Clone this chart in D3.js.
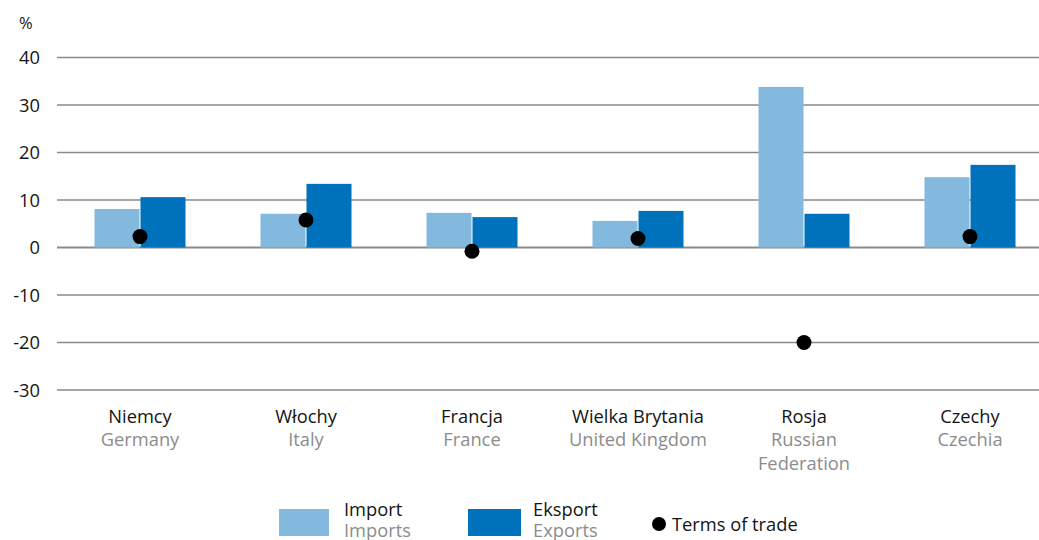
<!DOCTYPE html>
<html>
<head>
<meta charset="utf-8">
<script src="https://cdn.jsdelivr.net/npm/d3@7"></script>
<style>
  html, body { margin: 0; padding: 0; background: #fff; }
  svg { display: block; font-family: "Open Sans", "Noto Sans", sans-serif; }
</style>
</head>
<body>
<svg id="chart" width="1039" height="540"></svg>
<script>
// Category names: Polish line and English line
const categoriesPl = ["Niemcy", "Włochy", "Francja", "Wielka Brytania", "Rosja", "Czechy"];
const categoriesEn = [["Germany"], ["Italy"], ["France"], ["United Kingdom"], ["Russian", "Federation"], ["Czechia"]];

// Series values, %
const importValues = [8.1, 7.1, 7.3, 5.6, 33.8, 14.8];
const exportValues = [10.6, 13.4, 6.4, 7.7, 7.1, 17.4];
const termsOfTrade = [2.3, 5.8, -0.8, 1.9, -20.0, 2.3];

// Y axis ticks
const yTicks = [40, 30, 20, 10, 0, -10, -20, -30];

const svg = d3.select("#chart");
const colImport = "#83b9df";
const colExport = "#0072bc";
const txt = "#141414", txtGrey = "#8c8c8c";
const fs = 18.3;

const plotLeft = 57, plotRight = 1053, plotTop = 57.5, plotBottom = 390;

const x = d3.scaleBand().domain(categoriesPl).range([plotLeft, plotRight]).paddingInner(0).paddingOuter(0);
const y = d3.scaleLinear().domain([-30, 40]).range([plotBottom, plotTop]);

// Gridlines
svg.append("g").selectAll("line").data(yTicks).join("line")
  .attr("x1", plotLeft).attr("x2", 1039)
  .attr("y1", d => y(d)).attr("y2", d => y(d))
  .attr("stroke", "#8a8a8a").attr("stroke-width", d => d === 0 ? 2 : 1.3);

// Y tick labels
svg.append("g").selectAll("text").data(yTicks).join("text")
  .attr("x", 40).attr("y", d => y(d) + 6.5)
  .attr("text-anchor", "end")
  .attr("font-size", fs).attr("fill", txt)
  .text(d => d);

svg.append("text").attr("x", 19).attr("y", 29).attr("font-size", 16.5).attr("fill", txt).text("%");

// Bars: import and export side by side within each band
const barW = 45, gap = 1;
const groups = svg.append("g").selectAll("g").data(categoriesPl).join("g")
  .attr("transform", d => `translate(${x(d) + x.bandwidth() / 2 - barW - gap / 2},0)`);

groups.append("rect")
  .attr("x", 0)
  .attr("width", barW)
  .attr("y", (d, i) => y(Math.max(0, importValues[i])))
  .attr("height", (d, i) => Math.abs(y(importValues[i]) - y(0)))
  .attr("fill", colImport);

groups.append("rect")
  .attr("x", barW + gap)
  .attr("width", barW)
  .attr("y", (d, i) => y(Math.max(0, exportValues[i])))
  .attr("height", (d, i) => Math.abs(y(exportValues[i]) - y(0)))
  .attr("fill", colExport);

// Terms of trade dots
svg.append("g").selectAll("circle").data(categoriesPl).join("circle")
  .attr("cx", d => x(d) + x.bandwidth() / 2)
  .attr("cy", (d, i) => y(termsOfTrade[i]))
  .attr("r", 7.5)
  .attr("fill", "#000");

// Category labels
const catG = svg.append("g").selectAll("g").data(categoriesPl).join("g")
  .attr("transform", d => `translate(${x(d) + x.bandwidth() / 2},0)`);
catG.append("text").attr("y", 423).attr("text-anchor", "middle")
  .attr("font-size", fs).attr("fill", txt).text(d => d);
catG.each(function(d, i) {
  d3.select(this).selectAll("text.en").data(categoriesEn[i]).join("text")
    .attr("class", "en")
    .attr("y", (t, j) => 446 + j * 24)
    .attr("text-anchor", "middle")
    .attr("font-size", fs).attr("fill", txtGrey).text(t => t);
});

// Legend
const legend = svg.append("g");
legend.append("rect").attr("x", 279).attr("y", 509).attr("width", 50).attr("height", 27).attr("fill", colImport);
legend.append("text").attr("x", 344).attr("y", 516).attr("font-size", fs).attr("fill", txt).text("Import");
legend.append("text").attr("x", 344).attr("y", 537).attr("font-size", fs).attr("fill", txtGrey).text("Imports");
legend.append("rect").attr("x", 468).attr("y", 509).attr("width", 53).attr("height", 27).attr("fill", colExport);
legend.append("text").attr("x", 533).attr("y", 516).attr("font-size", fs).attr("fill", txt).text("Eksport");
legend.append("text").attr("x", 533).attr("y", 537).attr("font-size", fs).attr("fill", txtGrey).text("Exports");
legend.append("circle").attr("cx", 659).attr("cy", 524).attr("r", 7).attr("fill", "#000");
legend.append("text").attr("x", 672).attr("y", 531).attr("font-size", fs).attr("fill", txt).text("Terms of trade");
</script>
</body>
</html>
